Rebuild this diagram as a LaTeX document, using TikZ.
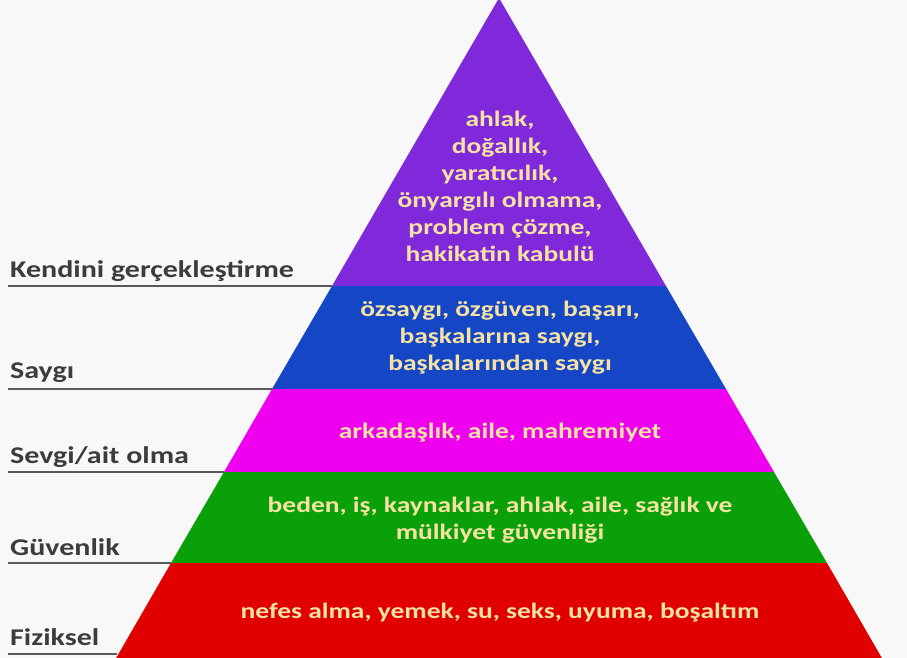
\documentclass[tikz,border=0pt]{standalone}
\usepackage{fontspec}
\setmainfont{Carlito}
\newfontfamily\widefont[FakeStretch=1.25]{Carlito}
\definecolor{bg}{HTML}{F8F8F8}
\definecolor{cPurple}{HTML}{8029DA}
\definecolor{cBlue}{HTML}{1446C6}
\definecolor{cMagenta}{HTML}{EE00EE}
\definecolor{cGreen}{HTML}{0AA00A}
\definecolor{cRed}{HTML}{E00000}
\definecolor{cText}{HTML}{F6E2A2}
\definecolor{cLabel}{HTML}{3C3C3C}
\definecolor{cLine}{HTML}{5A5A5A}
\begin{document}
\begin{tikzpicture}[x=1pt,y=-1pt,
  inner/.style={text=cText,font=\widefont\fontsize{22}{27}\selectfont\bfseries,align=center,inner sep=0pt},
  lbl/.style={text=cLabel,font=\widefont\fontsize{24}{28}\selectfont\bfseries,anchor=base west,inner sep=0pt},
  rule/.style={draw=cLine,line width=1.6pt}]
\useasboundingbox (0,0) rectangle (907,658);
\clip (0,0) rectangle (907,658);
\fill[bg] (0,0) rectangle (907,658);
% band corners
\coordinate (A) at (499,-2);
\coordinate (L1) at (332,286); \coordinate (R1) at (666,286);
\coordinate (L2) at (272,389); \coordinate (R2) at (726,389);
\coordinate (L3) at (224,472); \coordinate (R3) at (774,472);
\coordinate (L4) at (171,563); \coordinate (R4) at (827,563);
\coordinate (L5) at (115,660); \coordinate (R5) at (883,660);
\fill[cPurple] (A) -- (R1) -- (L1) -- cycle;
\fill[cBlue] (L1) -- (R1) -- (R2) -- (L2) -- cycle;
\fill[cMagenta] (L2) -- (R2) -- (R3) -- (L3) -- cycle;
\fill[cGreen] (L3) -- (R3) -- (R4) -- (L4) -- cycle;
\fill[cRed] (L4) -- (R4) -- (R5) -- (L5) -- cycle;
% texts inside
\node[inner] (t1) at (500,186) {ahlak,\\doğallık,\\yaratıcılık,\\önyargılı olmama,\\problem çözme,\\hakikatin kabulü};
\node[inner] (t2) at (500,338) {özsaygı, özgüven, başarı,\\başkalarına saygı,\\başkalarından saygı};
\node[inner] (t3) at (500,433) {arkadaşlık, aile, mahremiyet};
\node[inner] (t4) at (500,520) {beden, iş, kaynaklar, ahlak, aile, sağlık ve\\mülkiyet güvenliği};
\node[inner] (t5) at (500,613) {nefes alma, yemek, su, seks, uyuma, boşaltım};
% labels and rules
\coordinate (S1) at (8,286);
\coordinate (S2) at (8,389);
\coordinate (S3) at (8,472);
\coordinate (S4) at (8,563);
\coordinate (S5) at (8,654);
\coordinate (E5) at (117,654);
\draw[rule] (S1) -- (L1);
\draw[rule] (S2) -- (L2);
\draw[rule] (S3) -- (L3);
\draw[rule] (S4) -- (L4);
\draw[rule] (S5) -- (E5);
\node[lbl] (l1) at (10,277) {Kendini gerçekleştirme};
\node[lbl] (l2) at (10,378) {Saygı};
\node[lbl] (l3) at (10,463) {Sevgi/ait olma};
\node[lbl] (l4) at (10,555) {Güvenlik};
\node[lbl] (l5) at (10,645) {Fiziksel};
\end{tikzpicture}
\end{document}
